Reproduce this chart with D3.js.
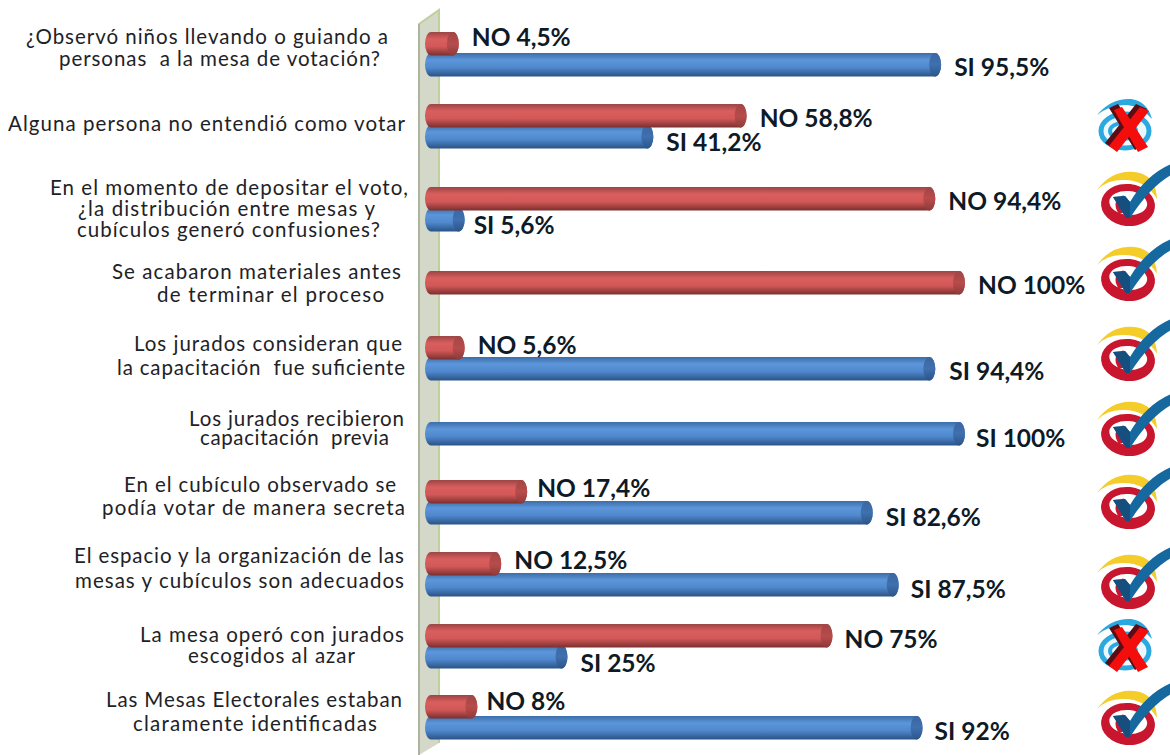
<!DOCTYPE html>
<html>
<head>
<meta charset="utf-8">
<script src="https://d3js.org/d3.v7.min.js"></script>
<style>
  html, body { margin: 0; padding: 0; background: #fff; }
  svg { display: block; }
  .cat { font-family: Lato, sans-serif; font-size: 20.5px; fill: #1e2226; }
  .val { font-family: Lato, sans-serif; font-weight: 700; font-size: 24.5px; fill: #0e1a26; }
</style>
</head>
<body>
<svg id="chart" width="1170" height="755"></svg>
<script>
// one entry per question, top to bottom
const questions = ["q1", "q2", "q3", "q4", "q5", "q6", "q7", "q8", "q9", "q10"];
const noValues = [4.5, 58.8, 94.4, 100, 5.6, 0, 17.4, 12.5, 75, 8];
const siValues = [95.5, 41.2, 5.6, 0, 94.4, 100, 82.6, 87.5, 25, 92];
const verdicts = ["", "x", "ok", "ok", "ok", "ok", "ok", "ok", "x", "ok"];
const questionLines = [
    ["¿Observó niños llevando o guiando a", "personas  a la mesa de votación?"],
    ["Alguna persona no entendió como votar"],
    ["En el momento de depositar el voto,", "¿la distribución entre mesas y", "cubículos generó confusiones?"],
    ["Se acabaron materiales antes", "de terminar el proceso"],
    ["Los jurados consideran que", "la capacitación  fue suficiente"],
    ["Los jurados recibieron", "capacitación  previa"],
    ["En el cubículo observado se", "podía votar de manera secreta"],
    ["El espacio y la organización de las", "mesas y cubículos son adecuados"],
    ["La mesa operó con jurados", "escogidos al azar"],
    ["Las Mesas Electorales estaban", "claramente identificadas"]
];

// layout: rows and labels are not evenly spaced
const rowTops = [32, 104, 187, 271, 336, 401, 480, 552, 624, 695];
const iconCentres = [0, 128, 205, 280, 360, 435, 508, 588, 648, 724];
const labelLayout = {
    NO: { gaps: [13, 13, 13, 13, 13, 0, 10, 13, 12, 9], centres: [37, 118, 201, 285, 345, 0, 488, 560, 639, 701] },
    SI: { gaps: [13, 13, 9, 0, 14, 11, 13, 12, 13, 12], centres: [67, 142, 225, 0, 371, 438, 517, 589, 663, 731] }
};
const lineBoxes = [
    [[26, 388, 37], [59, 380, 59]],
    [[8, 405, 124]],
    [[50, 408, 188], [78, 375, 209], [77, 380, 230]],
    [[112, 401, 272], [157, 384, 295]],
    [[134, 402, 344], [117, 405, 368]],
    [[189, 404, 419], [200, 389, 438]],
    [[124, 396, 485], [102, 405, 508]],
    [[74, 404, 556], [75, 404, 581]],
    [[140, 404, 635], [188, 355, 656]],
    [[106, 402, 700], [133, 377, 724]]
];
const barHeight = 23.5;
const capWidth = 6;
const barLead = 10;

const svg = d3.select("#chart");

const x = d3.scaleLinear().domain([0, 100]).range([435, 965]);
const rowTop = d3.scaleOrdinal().domain(questions).range(rowTops);
const seriesOffset = d3.scalePoint().domain(["NO", "SI"]).range([0, 21]);

// cylinder shading
const palette = {
    NO: { body: ["#9c4444", "#d95e5e", "#d35858", "#7b2f2f"], cap: ["#a04545", "#b84c4c", "#8e3a3a"] },
    SI: { body: ["#3c6ca8", "#5c96da", "#4f88cc", "#2a5286"], cap: ["#3a68a2", "#3f70ae", "#2b5488"] }
};
const defs = svg.append("defs");
Object.keys(palette).forEach((key) => {
    const body = defs.append("linearGradient").attr("id", "body" + key)
        .attr("x1", 0).attr("y1", 0).attr("x2", 0).attr("y2", 1);
    [0, 0.3, 0.62, 1].forEach((o, i) => {
        body.append("stop").attr("offset", o).attr("stop-color", palette[key].body[i]);
    });
    const cap = defs.append("linearGradient").attr("id", "cap" + key)
        .attr("x1", 0).attr("y1", 0).attr("x2", 0).attr("y2", 1);
    [0, 0.5, 1].forEach((o, i) => {
        cap.append("stop").attr("offset", o).attr("stop-color", palette[key].cap[i]);
    });
});
defs.append("filter").attr("id", "soft")
    .append("feGaussianBlur").attr("stdDeviation", 0.5);

// the chart's side wall
svg.append("path")
    .attr("d", "M419,24 L439,10 L439,743 L419,755 Z")
    .attr("fill", "#d4d8c8");
svg.append("path")
    .attr("d", "M419,755 L419,24 L439,10 L439,743")
    .attr("fill", "none")
    .attr("stroke", "#c0d09c")
    .attr("stroke-width", 2);
svg.append("line")
    .attr("x1", 419).attr("y1", 24).attr("x2", 419).attr("y2", 755)
    .attr("stroke", "#a8ab9e")
    .attr("stroke-width", 1.5);

// question text
questionLines.forEach((lines, i) => {
    lines.forEach((line, j) => {
        const box = lineBoxes[i][j];
        svg.append("text")
            .attr("class", "cat")
            .attr("x", box[0])
            .attr("y", box[2])
            .attr("dy", "0.35em")
            .attr("textLength", box[1] - box[0])
            .attr("lengthAdjust", "spacing")
            .style("white-space", "pre")
            .text(line);
    });
});

function drawSeries(key, values) {
    const rows = questions
        .map((q, i) => ({ q, i, value: values[i] }))
        .filter((d) => d.value > 0);

    const g = svg.append("g").attr("filter", "url(#soft)");
    const barY = (d) => rowTop(d.q) + seriesOffset(key);

    g.selectAll("rect")
        .data(rows)
        .enter()
        .append("rect")
        .attr("x", x(0) - barLead)
        .attr("y", barY)
        .attr("width", (d) => x(d.value) - x(0) + barLead)
        .attr("height", barHeight)
        .attr("rx", capWidth)
        .attr("ry", barHeight / 2)
        .attr("fill", `url(#body${key})`);

    g.selectAll("ellipse")
        .data(rows)
        .enter()
        .append("ellipse")
        .attr("cx", (d) => x(d.value) - capWidth)
        .attr("cy", (d) => barY(d) + barHeight / 2)
        .attr("rx", capWidth)
        .attr("ry", barHeight / 2)
        .attr("fill", `url(#cap${key})`);

    svg.append("g").selectAll("text")
        .data(rows)
        .enter()
        .append("text")
        .attr("class", "val")
        .attr("x", (d) => x(d.value) + labelLayout[key].gaps[d.i])
        .attr("y", (d) => labelLayout[key].centres[d.i])
        .attr("dy", "0.35em")
        .text((d) => `${key} ${String(d.value).replace(".", ",")}%`);
}

drawSeries("SI", siValues);
drawSeries("NO", noValues);

// verdict icons
function drawOk(g) {
    g.append("path")
        .attr("d", "M-31,-15 Q-14,-38 12,-32 Q28,-27 29,-6 Q18,-25 -4,-25 Q-20,-26 -31,-15 Z")
        .attr("fill", "#f4cd2c");
    g.append("path")
        .attr("fill-rule", "evenodd")
        .attr("transform", "rotate(6)")
        .attr("d", "M-27,0 A27,21 0 1 0 27,0 A27,21 0 1 0 -27,0 Z M-19,-2 A19,12 0 1 1 19,-2 A19,12 0 1 1 -19,-2 Z")
        .attr("fill", "#c8132f");
    g.append("path")
        .attr("d", "M-9,9 Q-18,-4 -4,-10 Q-11,-3 -3,7 Z")
        .attr("fill", "#c8132f");
    g.append("path")
        .attr("d", "M-15,-8 L-3,-9 L2,-3 Q18,-30 43,-41 L43,-30 Q22,-18 2,13 L-2,13 Z")
        .attr("fill", "#17699f");
    g.append("path")
        .attr("d", "M-15,-8 L-3,-9 L2,-3 L2,13 L-2,13 Z")
        .attr("fill", "#134f7e");
}

function drawCross(g) {
    g.append("path")
        .attr("d", "M-28,-13 Q-14,-30 6,-29 Q22,-27 27,-9 Q16,-22 2,-23 Q-14,-24 -28,-13 Z")
        .attr("fill", "#2aa9e0");
    g.append("ellipse")
        .attr("rx", 24).attr("ry", 17)
        .attr("cy", 3)
        .attr("fill", "#eaf7fc")
        .attr("stroke", "#2aa9e0")
        .attr("stroke-width", 5);
    g.append("ellipse")
        .attr("rx", 13).attr("ry", 8)
        .attr("cx", -2).attr("cy", 3)
        .attr("fill", "none")
        .attr("stroke", "#2aa9e0")
        .attr("stroke-width", 4);
    g.append("path")
        .attr("d", "M-16,-20 L-7,-24 L20,16 L10,22 Z M11,-24 L22,-19 L-11,21 L-20,15 Z")
        .attr("fill", "#5a0a12");
    g.append("path")
        .attr("d", "M-11,-18 L-3,-21 L23,19 L13,24 Z M15,-21 L24,-17 L-8,24 L-16,18 Z")
        .attr("fill", "#f40a0a");
}

verdicts.forEach((v, i) => {
    if (!v) return;
    const g = svg.append("g")
        .attr("transform", `translate(${v === "x" ? 1125 : 1128},${iconCentres[i]})`)
        .attr("filter", "url(#soft)");
    if (v === "x") drawCross(g);
    else drawOk(g);
});
</script>
</body>
</html>
